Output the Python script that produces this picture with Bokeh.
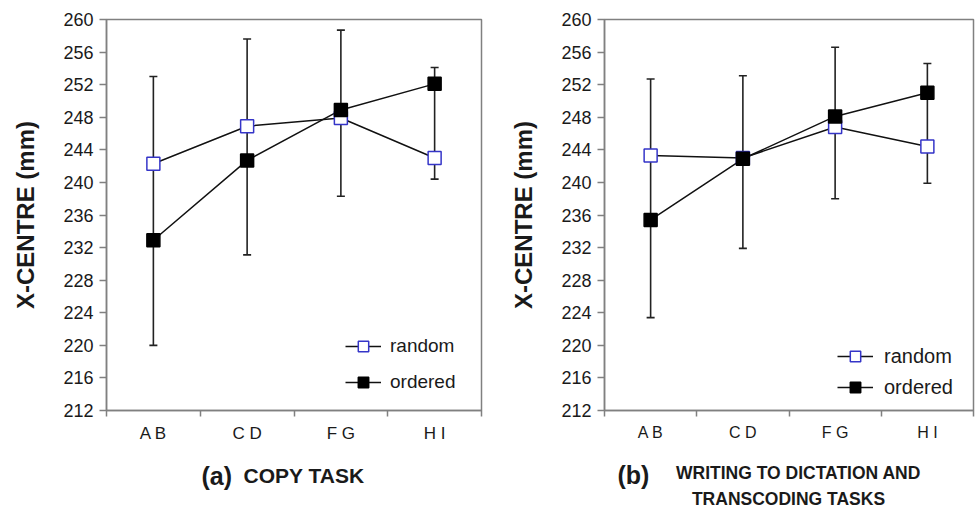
from bokeh.plotting import figure
from bokeh.models import FixedTicker, Legend, LegendItem, Label, Range1d
from bokeh.layouts import row, column
from bokeh.embed import file_html
from bokeh.resources import INLINE

# ---------------- data ----------------
categories = ["A B", "C D", "F G", "H I"]
y_ticks = list(range(212, 261, 4))

copy_random = [242.3, 246.9, 247.9, 243.0]
copy_ordered = [232.9, 242.7, 248.9, 252.1]
copy_err_upper = [253.0, 257.6, 258.7, 254.1]
copy_err_lower = [220.0, 231.1, 238.3, 240.4]

dict_random = [243.3, 243.0, 246.8, 244.4]
dict_ordered = [235.4, 242.9, 248.1, 251.0]
dict_err_upper = [252.7, 253.1, 256.6, 254.6]
dict_err_lower = [223.4, 231.9, 238.0, 239.9]

FONT = "Liberation Sans"
GRAY = "#808080"
TXT = "#1a1a1a"
BLUE = "#3535c8"


def make_panel(random, ordered, err_up, err_lo, width, mb_left, mb_right, mb_top,
               mb_bottom, xlab_size, leg_xy, leg_size, leg_spacing, leg_standoff):
    xs = [i + 0.5 for i in range(len(categories))]
    p = figure(width=width, height=445, output_backend="svg", toolbar_location=None,
               x_range=Range1d(0, len(categories)), y_range=Range1d(y_ticks[0], y_ticks[-1]),
               min_border_left=mb_left, min_border_right=mb_right,
               min_border_top=mb_top, min_border_bottom=mb_bottom)
    p.background_fill_color = "white"
    p.border_fill_color = "white"
    p.outline_line_color = GRAY
    p.outline_line_width = 1.5
    p.xgrid.visible = False
    p.ygrid.visible = False

    # y axis
    p.yaxis.ticker = FixedTicker(ticks=y_ticks, minor_ticks=[])
    p.yaxis.axis_label = "X-CENTRE (mm)"
    p.yaxis.axis_label_text_font = FONT
    p.yaxis.axis_label_text_font_style = "bold"
    p.yaxis.axis_label_text_font_size = "24px"
    p.yaxis.axis_label_text_color = TXT
    p.yaxis.axis_label_standoff = 21
    p.yaxis.major_label_text_font = FONT
    p.yaxis.major_label_text_font_size = "18px"
    p.yaxis.major_label_text_color = TXT
    p.yaxis.major_label_standoff = 6
    p.yaxis.major_tick_in = 0
    p.yaxis.major_tick_out = 7
    p.yaxis.major_tick_line_color = GRAY
    p.yaxis.major_tick_line_width = 1.5
    p.yaxis.axis_line_color = GRAY
    p.yaxis.axis_line_width = 1.5

    # x axis: labels at centres, ticks at category boundaries
    p.xaxis.ticker = FixedTicker(ticks=xs, minor_ticks=list(range(len(categories) + 1)))
    p.xaxis.major_label_overrides = {x: c for x, c in zip(xs, categories)}
    p.xaxis.major_label_text_font = FONT
    p.xaxis.major_label_text_font_size = xlab_size
    p.xaxis.major_label_text_color = TXT
    p.xaxis.major_label_standoff = 7
    p.xaxis.major_tick_in = 0
    p.xaxis.major_tick_out = 0
    p.xaxis.minor_tick_in = 0
    p.xaxis.minor_tick_out = 6
    p.xaxis.minor_tick_line_color = GRAY
    p.xaxis.minor_tick_line_width = 1.5
    p.xaxis.axis_line_color = GRAY
    p.xaxis.axis_line_width = 1.5

    # error bars
    p.segment(x0=xs, y0=err_lo, x1=xs, y1=err_up, line_color="#222222", line_width=1.6)
    p.scatter(xs, err_up, marker="dash", size=8, line_color="#222222", line_width=1.6)
    p.scatter(xs, err_lo, marker="dash", size=8, line_color="#222222", line_width=1.6)

    # series
    l_r = p.line(xs, random, line_color="#111111", line_width=1.5)
    l_o = p.line(xs, ordered, line_color="#111111", line_width=1.5)
    s_r = p.scatter(xs, random, marker="square", size=13, fill_color="white",
                    line_color=BLUE, line_width=1.5)
    s_o = p.scatter(xs, ordered, marker="square", size=13, fill_color="black",
                    line_color="black", line_width=1.5)

    legend = Legend(items=[LegendItem(label="random", renderers=[l_r, s_r]),
                           LegendItem(label="ordered", renderers=[l_o, s_o])],
                    location=leg_xy)
    legend.background_fill_alpha = 0
    legend.border_line_alpha = 0
    legend.padding = 0
    legend.margin = 0
    legend.glyph_width = 36
    legend.glyph_height = 26
    legend.spacing = leg_spacing
    legend.label_standoff = leg_standoff
    legend.label_text_font = FONT
    legend.label_text_font_size = leg_size
    legend.label_text_color = TXT
    p.add_layout(legend)
    return p


def make_caption(width):
    c = figure(width=width, height=64, output_backend="svg", toolbar_location=None,
               x_range=Range1d(0, width), y_range=Range1d(0, 64),
               x_axis_location=None, y_axis_location=None,
               min_border=0)
    c.grid.visible = False
    c.outline_line_color = None
    c.background_fill_color = "white"
    c.border_fill_color = "white"
    return c


def caption_label(c, x, y, text, size, style="normal", align="left"):
    c.add_layout(Label(x=x, y=y, text=text, text_font=FONT, text_font_size=size,
                       text_font_style=style, text_color=TXT, text_align=align,
                       text_baseline="middle"))


p1 = make_panel(copy_random, copy_ordered, copy_err_upper, copy_err_lower,
                width=498, mb_left=106, mb_right=17, mb_top=19, mb_bottom=33,
                xlab_size="17px", leg_xy=(239, 15), leg_size="19px",
                leg_spacing=10, leg_standoff=9)
p2 = make_panel(dict_random, dict_ordered, dict_err_upper, dict_err_lower,
                width=478, mb_left=106, mb_right=3, mb_top=17, mb_bottom=34,
                xlab_size="16px", leg_xy=(233, 10), leg_size="20px",
                leg_spacing=5, leg_standoff=11)

c1 = make_caption(498)
caption_label(c1, 201, 34, "(a)", "25px", "bold")
caption_label(c1, 243, 34, "COPY TASK", "21px", "bold")

c2 = make_caption(478)
caption_label(c2, 119, 35, "(b)", "25px", "bold")
caption_label(c2, 300, 37, "WRITING TO DICTATION AND", "17.5px", "bold", "center")
caption_label(c2, 290, 11, "TRANSCODING TASKS", "17.5px", "bold", "center")

layout = column(row(p1, p2), row(c1, c2))
open("out.html", "w").write(file_html(layout, INLINE))
